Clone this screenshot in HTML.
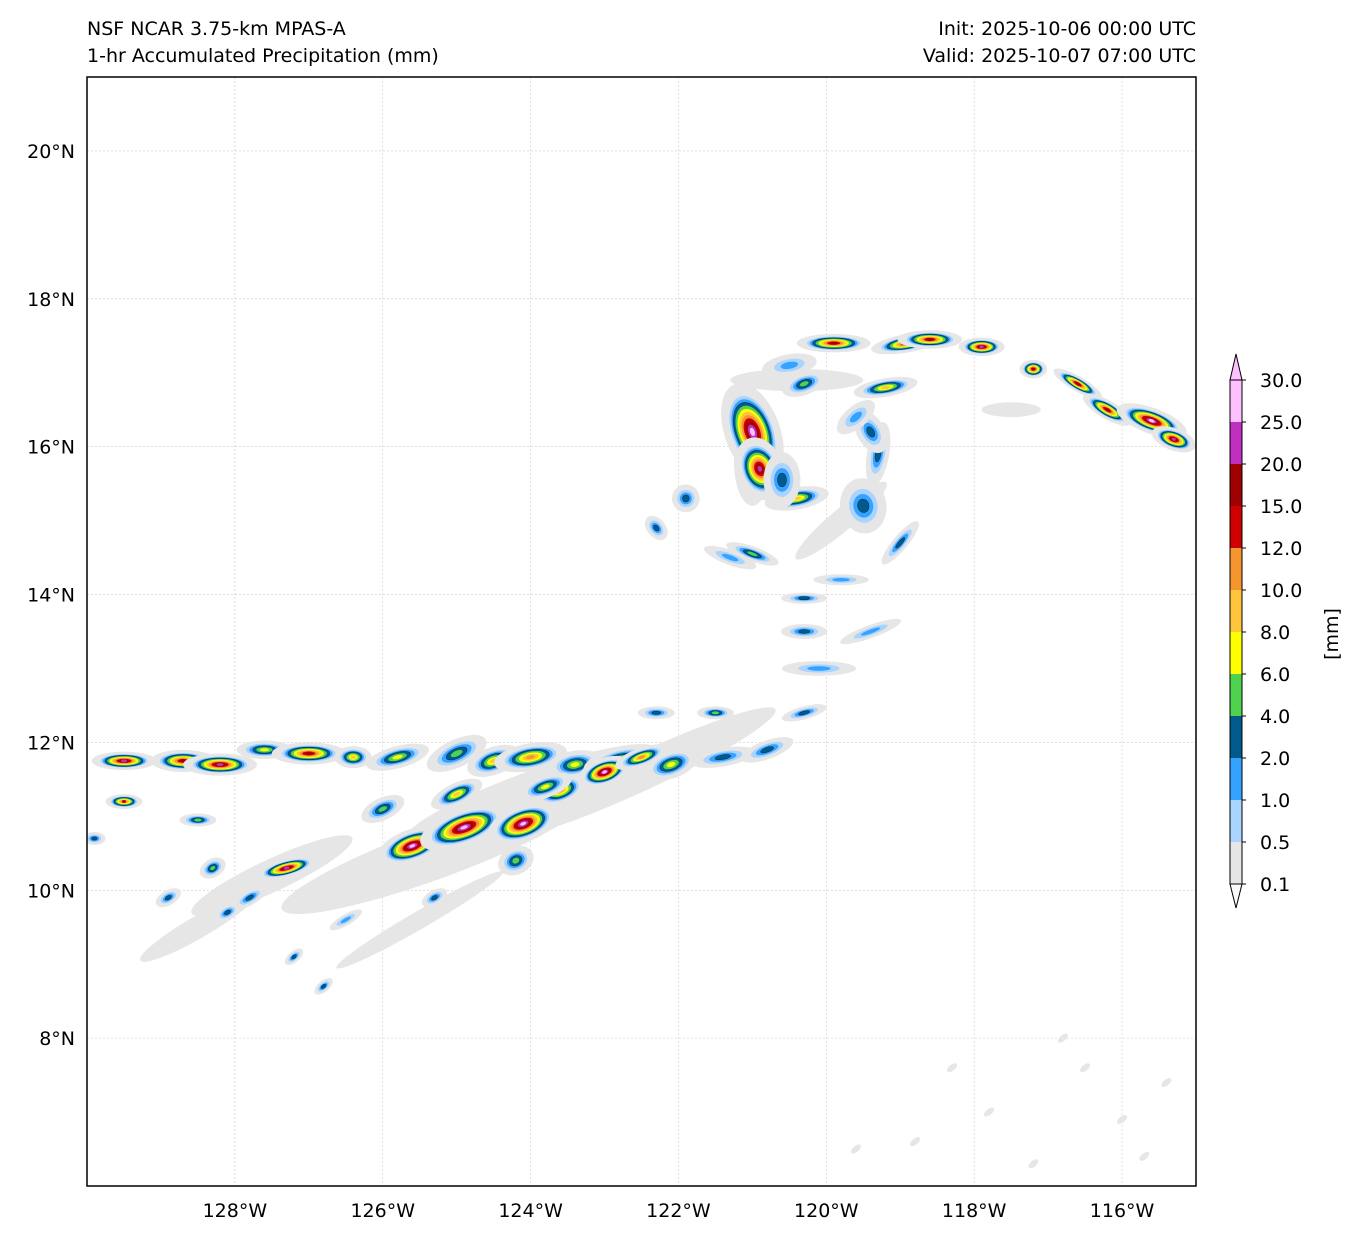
<!DOCTYPE html>
<html><head><meta charset="utf-8">
<style>
body{margin:0;background:#fff;font-family:"Liberation Sans","DejaVu Sans",sans-serif;}
svg text{font-family:"DejaVu Sans","Liberation Sans",sans-serif;}
</style></head>
<body>
<svg id="chart" width="1360" height="1239" viewBox="0 0 1360 1239" xmlns="http://www.w3.org/2000/svg">
<rect width="1360" height="1239" fill="#fff"/>
<text x="87" y="35" font-size="19">NSF NCAR 3.75-km MPAS-A</text>
<text x="87" y="62" font-size="19">1-hr Accumulated Precipitation (mm)</text>
<text x="1196" y="35" font-size="19" text-anchor="end">Init: 2025-10-06 00:00 UTC</text>
<text x="1196" y="62" font-size="19" text-anchor="end">Valid: 2025-10-07 07:00 UTC</text>
<defs><clipPath id="clip"><rect x="87" y="77" width="1109" height="1109"/></clipPath></defs>
<g id="grid"></g>
<g id="field" clip-path="url(#clip)"></g>
<rect x="87" y="77" width="1109" height="1109" fill="none" stroke="#000" stroke-width="1.5"/>
<g id="axes"></g>
<g id="cbar"></g>
<text transform="translate(1338,634) rotate(-90)" font-size="19" text-anchor="middle">[mm]</text>
</svg>
<script>
const levels=[0.1,0.5,1,2,4,6,8,10,12,15,20,25,30];
const colors=['#e6e6e6','#a8d4ff','#35a2ff','#005a8c','#4fd24f','#ffff00','#ffc53d','#f5952e','#d00000','#a00000','#c030c0','#ffc0ff'];
const lonTicks=[-128,-126,-124,-122,-120,-118,-116];
const latTicks=[8,10,12,14,16,18,20];
// blobs: lon, lat, peak(mm), half-width deg, half-height deg, angle deg
const bLon=[-119.3,-121.0,-120.9,-120.4,-119.5,-119.4,-119.2,-120.3,-118.9,-119.9,-118.6,-117.9,-117.2,-116.6,-116.2,-115.6,-115.3,-121.0,-120.3,-119.0,-120.3,-121.9,-122.3,-120.6,-119.6,-120.5,-119.8,-121.3,-119.4,-120.1,
-129.5,-128.7,-128.2,-127.6,-127.0,-126.4,-125.8,-125.0,-124.5,-124.0,-123.4,-122.8,-122.1,-121.4,-120.8,-125.6,-124.9,-124.1,-123.6,-123.0,-122.5,-127.3,-128.5,-129.5,-129.9,-127.8,-126.0,-125.0,-124.2,-123.8,-128.9,-128.1,-126.5,-120.3,-121.5,-122.3,-128.3,-127.2,-125.3,-126.8];
const bLat=[15.9,16.2,15.7,15.3,15.2,16.2,16.8,16.85,17.4,17.4,17.45,17.35,17.05,16.85,16.5,16.35,16.1,14.55,13.95,14.7,13.5,15.3,14.9,15.55,16.4,17.1,14.2,14.5,13.5,13.0,
11.75,11.75,11.7,11.9,11.85,11.8,11.8,11.85,11.75,11.8,11.7,11.75,11.7,11.8,11.9,10.6,10.85,10.9,11.35,11.6,11.8,10.3,10.95,11.2,10.7,9.9,11.1,11.3,10.4,11.4,9.9,9.7,9.6,12.4,12.4,12.4,10.3,9.1,9.9,8.7];
const bPeak=[3,30,22,8,3,3,8,4,18,15,16,20,15,16,18,30,20,5,2,3,3,3,2,2,1.5,1,1.5,1.5,1.2,1,
22,18,20,6,16,8,6,4,8,10,6,8,6,3,2,25,25,30,10,25,10,20,5,12,3,2,4,8,4,6,3,2,1.5,3,4,2,5,2,3,2];
const bW=[0.12,0.3,0.25,0.35,0.3,0.25,0.35,0.25,0.4,0.4,0.35,0.25,0.15,0.3,0.3,0.4,0.25,0.3,0.25,0.3,0.25,0.15,0.15,0.2,0.25,0.3,0.3,0.3,0.35,0.4,
0.35,0.35,0.4,0.3,0.4,0.2,0.35,0.35,0.3,0.4,0.3,0.4,0.3,0.35,0.3,0.4,0.5,0.4,0.3,0.3,0.3,0.35,0.2,0.2,0.12,0.2,0.25,0.3,0.2,0.3,0.15,0.15,0.2,0.25,0.2,0.2,0.15,0.12,0.15,0.12];
const bH=[0.35,0.55,0.35,0.12,0.25,0.15,0.1,0.12,0.1,0.1,0.1,0.1,0.1,0.08,0.1,0.14,0.12,0.08,0.06,0.08,0.08,0.15,0.1,0.3,0.12,0.12,0.06,0.08,0.07,0.08,
0.1,0.12,0.12,0.1,0.12,0.12,0.12,0.15,0.15,0.15,0.15,0.15,0.15,0.1,0.1,0.18,0.2,0.2,0.15,0.15,0.1,0.1,0.07,0.08,0.07,0.08,0.12,0.12,0.15,0.12,0.08,0.08,0.06,0.07,0.07,0.07,0.1,0.06,0.08,0.06];
const bAng=[10,-20,-20,-10,80,60,-10,-20,-10,0,0,0,0,30,30,20,20,20,0,-50,0,60,50,0,-40,-10,0,20,-20,0,
0,0,0,0,0,0,-15,-25,-20,-10,-10,-15,-20,-10,-20,-20,-20,-20,-20,-20,-20,-15,0,0,0,-30,-25,-25,-25,-20,-30,-30,-30,-15,0,0,-30,-40,-30,-40];
// wide light-precip areas
const gLon=[-125.3,-122.5,-127.5,-128.5,-124,-121.0,-119.8,-120.4,-117.5,-125.5];
const gLat=[10.5,11.6,10.2,9.5,11.3,15.8,15.0,16.9,16.5,9.6];
const gW=[2.2,2.0,1.2,0.9,1.8,0.25,0.8,0.9,0.4,1.3];
const gH=[0.35,0.25,0.22,0.15,0.3,0.6,0.15,0.15,0.1,0.12];
const gA=[-20,-25,-25,-30,-20,0,-40,0,0,-30];
// scattered faint cells in the SE corner
const sLon=[-116.5,-117.8,-118.8,-116.0,-115.4,-117.2,-119.6,-118.3,-116.8,-115.7];
const sLat=[7.6,7.0,6.6,6.9,7.4,6.3,6.5,7.6,8.0,6.4];

const NS='http://www.w3.org/2000/svg';
const X0=87,Y0=77,W=1109,H=1109;
const xS=lon=>X0+(lon+130)/15*W;
const yS=lat=>Y0+(21-lat)/15*H;
const pxDeg=W/15;
function mk(tag,attrs,parent){const e=document.createElementNS(NS,tag);for(const k in attrs)e.setAttribute(k,attrs[k]);parent.appendChild(e);return e;}
const grid=document.getElementById('grid'),field=document.getElementById('field'),axes=document.getElementById('axes'),cbar=document.getElementById('cbar');
lonTicks.forEach(v=>{const l=mk('line',{x1:xS(v),x2:xS(v),y1:Y0,y2:Y0+H,stroke:'#ccc','stroke-width':0.6,'stroke-dasharray':'2,2'},grid);

const t=mk('text',{x:xS(v),y:1217,'font-size':19,'text-anchor':'middle'},axes);t.textContent=(-v)+'°W';
});
latTicks.forEach(v=>{const l=mk('line',{x1:X0,x2:X0+W,y1:yS(v),y2:yS(v),stroke:'#ccc','stroke-width':0.6,'stroke-dasharray':'2,2'},grid);

const t=mk('text',{x:75,y:yS(v)+7,'font-size':19,'text-anchor':'end'},axes);t.textContent=v+'°N';
});
gLon.forEach((lon,i)=>{const e=mk('ellipse',{cx:xS(lon),cy:yS(gLat[i]),rx:gW[i]*pxDeg,ry:gH[i]*pxDeg,fill:colors[0],transform:`rotate(${gA[i]} ${xS(lon)} ${yS(gLat[i])})`},field);
});
sLon.forEach((lon,i)=>{const e=mk('ellipse',{cx:xS(lon),cy:yS(sLat[i]),rx:6,ry:3,fill:colors[0],transform:`rotate(-40 ${xS(lon)} ${yS(sLat[i])})`},field);
});
bLon.forEach((lon,i)=>{let top=0;while(top<levels.length-1&&bPeak[i]>=levels[top])top++;
const n=top; const cx=xS(lon),cy=yS(bLat[i]);
for(let k=0;k<n;k++){const f=1-k/(n+0.3);const m=k===0?1.25:1;const rx=Math.max(1.5,bW[i]*pxDeg*f*m),ry=Math.max(1.5,bH[i]*pxDeg*f*m);
const e=mk('ellipse',{cx,cy,rx,ry,fill:colors[k],stroke:k===3?'#003050':'none','stroke-width':0.6,transform:`rotate(${bAng[i]} ${cx} ${cy})`},field);
}});
// colorbar
const cbX=1230,cbW=12,cbTop=380,step=42;
colors.forEach((c,k)=>{const y=cbTop+(levels.length-2-k)*step;
const r=mk('rect',{x:cbX,y:y,width:cbW,height:step,fill:c},cbar);});
const bot=cbTop+12*step;
mk('polygon',{points:`${cbX},${cbTop} ${cbX+cbW},${cbTop} ${cbX+cbW/2},${cbTop-26}`,fill:'#ffc0ff',stroke:'#000'},cbar);
mk('polygon',{points:`${cbX},${bot} ${cbX+cbW},${bot} ${cbX+cbW/2},${bot+24}`,fill:'#fafafa',stroke:'#000'},cbar);
mk('rect',{x:cbX,y:cbTop,width:cbW,height:12*step,fill:'none',stroke:'#000'},cbar);
levels.forEach((v,k)=>{const y=cbTop+(12-k)*step;mk('line',{x1:cbX+cbW,x2:cbX+cbW+4,y1:y,y2:y,stroke:'#000'},cbar);
const t=mk('text',{x:1260,y:y+7,'font-size':19},cbar);t.textContent=v.toFixed(1);
});
</script>
</body></html>
